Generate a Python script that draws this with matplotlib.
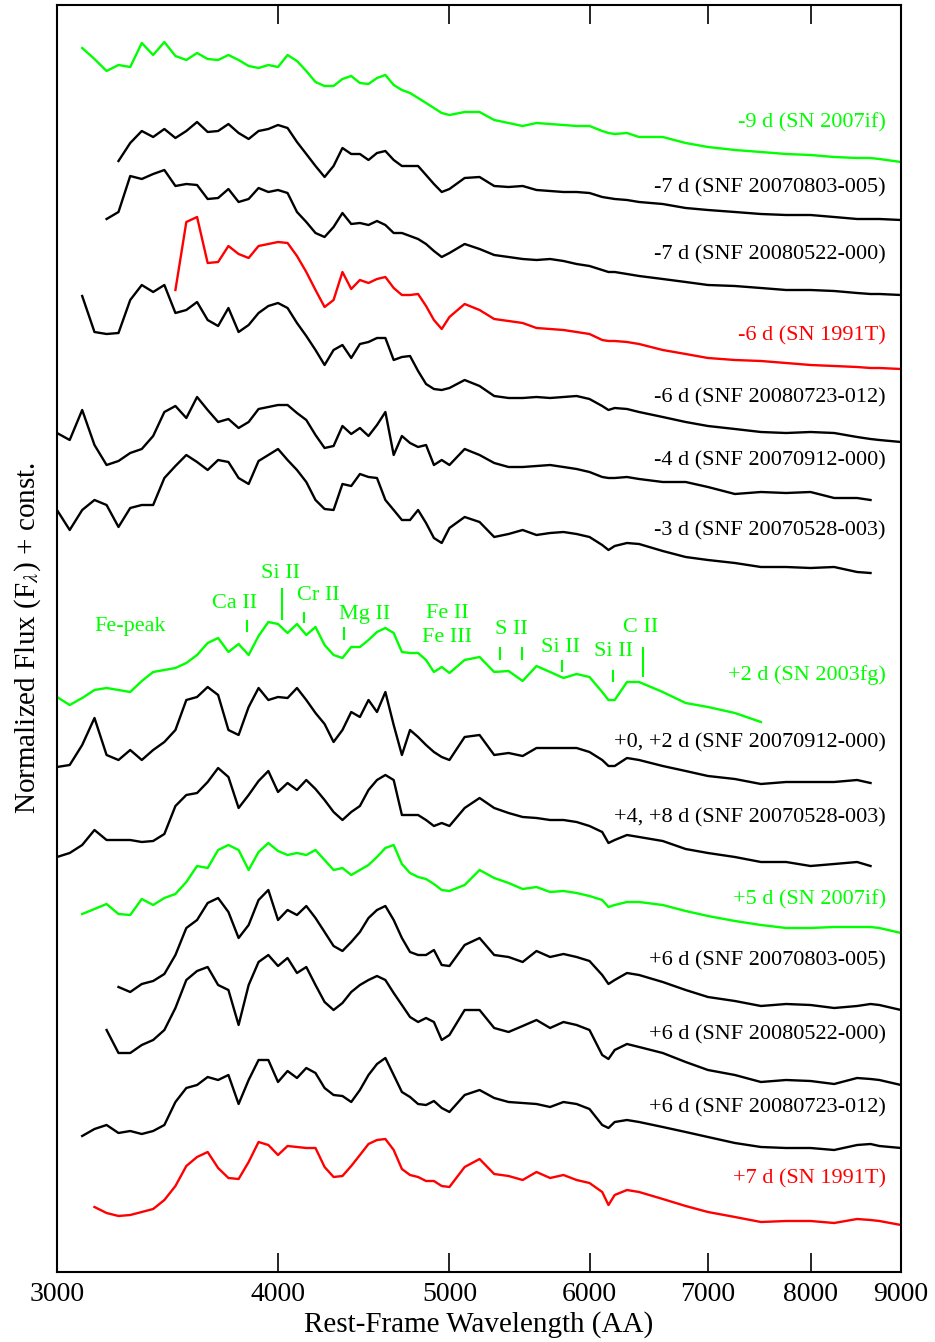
import numpy as np
import matplotlib
matplotlib.use("Agg")
import matplotlib.pyplot as plt

plt.rcParams["font.family"] = ["Liberation Serif", "DejaVu Serif"]
plt.rcParams["mathtext.fontset"] = "stix"

nan = np.nan

# rest-frame wavelength grid (AA) shared by all spectra
wave = [3000, 3050, 3100, 3150, 3200, 3250, 3300, 3350, 3400, 3450, 3500,
        3550, 3600, 3650, 3700, 3750, 3800, 3850, 3900, 3950, 4000,
        4050, 4100, 4150, 4200, 4250, 4300, 4350, 4400, 4450, 4500,
        4550, 4600, 4650, 4700, 4750, 4800, 4850, 4900, 4950, 5000,
        5100, 5200, 5300, 5400, 5500, 5600, 5700, 5800, 5900, 6000,
        6100, 6150, 6200, 6300, 6400, 6600, 6800, 7000, 7250, 7500,
        7750, 8000, 8250, 8500, 8650, 8750, 9000]

# normalized flux + const, top to bottom
sn07if_m9 = [nan, nan, 12.24, 12.13, 12.01, 12.07, 12.05, 12.29, 12.17, 12.30, 12.16,
             12.12, 12.19, 12.13, 12.12, 12.17, 12.12, 12.06, 12.04, 12.07, 12.05,
             12.17, 12.11, 12.01, 11.90, 11.86, 11.86, 11.93, 11.96, 11.89, 11.88,
             11.94, 11.97, 11.87, 11.82, 11.79, 11.74, 11.69, 11.64, 11.59, 11.57,
             11.60, 11.60, 11.52, 11.49, 11.46, 11.49, 11.48, 11.47, 11.46, 11.46,
             11.41, 11.39, 11.38, 11.39, 11.35, 11.35, 11.29, 11.25, 11.22, 11.20,
             11.18, 11.17, 11.15, 11.14, 11.14, 11.13, 11.10]
snf0803_m7 = [nan, nan, nan, nan, nan, 11.11, 11.29, 11.41, 11.35, 11.43, 11.34,
              11.41, 11.50, 11.40, 11.41, 11.48, 11.39, 11.33, 11.41, 11.43, 11.47,
              11.44, 11.30, 11.18, 11.06, 10.95, 11.06, 11.24, 11.18, 11.18, 11.12,
              11.19, 11.21, 11.12, 11.06, 11.06, 11.06, 10.97, 10.88, 10.80, 10.83,
              10.94, 10.95, 10.86, 10.85, 10.86, 10.82, 10.81, 10.80, 10.80, 10.79,
              10.75, 10.74, 10.73, 10.72, 10.70, 10.68, 10.64, 10.62, 10.60, 10.58,
              10.57, 10.57, 10.55, 10.53, 10.53, 10.53, 10.52]
snf0522_m7 = [nan, nan, nan, nan, 10.53, 10.60, 10.96, 10.93, 10.98, 11.02, 10.86,
              10.88, 10.87, 10.73, 10.74, 10.83, 10.70, 10.73, 10.84, 10.80, 10.82,
              10.79, 10.60, 10.50, 10.39, 10.35, 10.45, 10.59, 10.48, 10.49, 10.47,
              10.51, 10.47, 10.39, 10.39, 10.36, 10.33, 10.28, 10.21, 10.15, 10.19,
              10.28, 10.23, 10.17, 10.15, 10.13, 10.12, 10.13, 10.11, 10.08, 10.06,
              10.02, 10.00, 10.00, 9.98, 9.96, 9.93, 9.90, 9.87, 9.86, 9.84,
              9.82, 9.82, 9.81, 9.79, 9.78, 9.78, 9.77]
sn91T_m6 = [nan, nan, nan, nan, nan, nan, nan, nan, nan, nan, 9.82,
            10.50, 10.55, 10.09, 10.10, 10.26, 10.18, 10.14, 10.26, 10.28, 10.30,
            10.29, 10.16, 10.00, 9.82, 9.65, 9.72, 10.00, 9.83, 9.92, 9.89,
            9.93, 9.95, 9.84, 9.77, 9.77, 9.78, 9.66, 9.52, 9.43, 9.55,
            9.68, 9.62, 9.53, 9.51, 9.49, 9.44, 9.43, 9.42, 9.40, 9.38,
            9.32, 9.31, 9.31, 9.30, 9.28, 9.22, 9.18, 9.14, 9.12, 9.11,
            9.09, 9.07, 9.06, 9.05, 9.04, 9.04, 9.03]
snf0723_m6 = [nan, nan, 9.76, 9.40, 9.38, 9.39, 9.72, 9.87, 9.80, 9.87, 9.59,
              9.62, 9.70, 9.52, 9.46, 9.64, 9.40, 9.47, 9.59, 9.66, 9.69,
              9.64, 9.49, 9.36, 9.22, 9.07, 9.22, 9.27, 9.14, 9.28, 9.30,
              9.34, 9.34, 9.12, 9.15, 9.16, 9.01, 8.88, 8.83, 8.82, 8.84,
              8.92, 8.86, 8.76, 8.74, 8.74, 8.75, 8.74, 8.75, 8.76, 8.73,
              8.66, 8.62, 8.64, 8.63, 8.60, 8.55, 8.50, 8.46, 8.43, 8.40,
              8.39, 8.40, 8.39, 8.35, 8.33, 8.32, 8.30]
snf0912_m4 = [8.39, 8.32, 8.62, 8.27, 8.07, 8.11, 8.19, 8.23, 8.36, 8.60, 8.66,
              8.54, 8.75, 8.62, 8.50, 8.53, 8.44, 8.50, 8.63, 8.65, 8.67,
              8.67, 8.59, 8.52, 8.37, 8.24, 8.26, 8.46, 8.38, 8.44, 8.36,
              8.47, 8.60, 8.17, 8.36, 8.29, 8.25, 8.27, 8.07, 8.12, 8.07,
              8.23, 8.17, 8.09, 8.05, 8.05, 8.06, 8.07, 8.05, 8.03, 8.00,
              7.95, 7.94, 7.94, 7.95, 7.93, 7.90, 7.90, 7.85, 7.78, 7.80,
              7.79, 7.80, 7.74, 7.74, 7.72, nan, nan]
snf0528_m3 = [7.62, 7.42, 7.62, 7.72, 7.67, 7.45, 7.64, 7.67, 7.67, 7.94, 8.06,
              8.17, 8.10, 8.02, 8.12, 8.10, 7.94, 7.88, 8.11, 8.17, 8.23,
              8.12, 8.02, 7.90, 7.72, 7.63, 7.62, 7.88, 7.86, 7.98, 7.95,
              7.94, 7.72, 7.62, 7.52, 7.52, 7.62, 7.49, 7.34, 7.29, 7.44,
              7.55, 7.50, 7.35, 7.38, 7.42, 7.37, 7.39, 7.40, 7.38, 7.35,
              7.27, 7.22, 7.26, 7.29, 7.28, 7.21, 7.15, 7.12, 7.09, 7.05,
              7.05, 7.04, 7.05, 7.00, 6.99, nan, nan]
sn03fg_p2 = [5.75, 5.67, 5.74, 5.82, 5.84, 5.82, 5.80, 5.91, 6.00, 6.02, 6.04,
             6.09, 6.17, 6.29, 6.34, 6.20, 6.28, 6.17, 6.36, 6.50, 6.48,
             6.39, 6.48, 6.37, 6.45, 6.27, 6.17, 6.14, 6.25, 6.25, 6.32,
             6.40, 6.44, 6.39, 6.20, 6.19, 6.19, 6.12, 6.00, 6.05, 5.99,
             6.12, 6.15, 6.00, 6.01, 5.91, 6.06, 6.00, 5.94, 5.98, 5.95,
             5.80, 5.72, 5.72, 5.90, 5.90, 5.80, 5.69, 5.65, 5.59, 5.50,
             nan, nan, nan, nan, nan, nan, nan]
snf0912_p0 = [5.05, 5.07, 5.27, 5.54, 5.17, 5.12, 5.22, 5.12, 5.22, 5.30, 5.42,
              5.72, 5.75, 5.85, 5.77, 5.42, 5.37, 5.65, 5.84, 5.72, 5.75,
              5.74, 5.84, 5.72, 5.59, 5.48, 5.30, 5.42, 5.60, 5.55, 5.72,
              5.60, 5.80, 5.47, 5.17, 5.42, 5.35, 5.27, 5.20, 5.15, 5.12,
              5.35, 5.37, 5.17, 5.19, 5.16, 5.24, 5.24, 5.24, 5.24, 5.20,
              5.12, 5.06, 5.06, 5.14, 5.12, 5.06, 5.01, 4.96, 4.93, 4.88,
              4.90, 4.90, 4.90, 4.92, 4.89, nan, nan]
snf0528_p4 = [4.15, 4.19, 4.27, 4.42, 4.32, 4.32, 4.32, 4.30, 4.31, 4.38, 4.66,
              4.77, 4.79, 4.90, 5.04, 4.95, 4.64, 4.77, 4.91, 5.01, 4.80,
              4.89, 4.82, 4.92, 4.83, 4.72, 4.60, 4.52, 4.60, 4.66, 4.82,
              4.92, 4.97, 4.92, 4.57, 4.57, 4.57, 4.52, 4.46, 4.49, 4.46,
              4.64, 4.74, 4.64, 4.59, 4.55, 4.54, 4.52, 4.52, 4.50, 4.46,
              4.40, 4.29, 4.32, 4.37, 4.35, 4.31, 4.23, 4.19, 4.15, 4.10,
              4.10, 4.06, 4.08, 4.10, 4.06, nan, nan]
sn07if_p5 = [nan, nan, 3.58, 3.63, 3.68, 3.58, 3.57, 3.73, 3.67, 3.74, 3.78,
             3.90, 4.06, 4.04, 4.22, 4.27, 4.22, 4.02, 4.20, 4.29, 4.21,
             4.17, 4.19, 4.17, 4.22, 4.12, 4.02, 4.04, 3.97, 4.02, 4.07,
             4.15, 4.24, 4.27, 4.08, 3.99, 3.95, 3.93, 3.88, 3.82, 3.81,
             3.87, 4.02, 3.94, 3.89, 3.83, 3.85, 3.80, 3.81, 3.79, 3.76,
             3.72, 3.65, 3.67, 3.70, 3.70, 3.67, 3.61, 3.56, 3.51, 3.47,
             3.44, 3.44, 3.45, 3.45, 3.45, 3.44, 3.39]
snf0803_p6 = [nan, nan, nan, nan, nan, 2.85, 2.80, 2.88, 2.91, 2.98, 3.17,
              3.44, 3.52, 3.69, 3.74, 3.60, 3.34, 3.47, 3.72, 3.82, 3.52,
              3.62, 3.57, 3.66, 3.54, 3.40, 3.26, 3.21, 3.30, 3.40, 3.54,
              3.62, 3.66, 3.52, 3.34, 3.20, 3.17, 3.17, 3.22, 3.07, 3.06,
              3.27, 3.34, 3.17, 3.15, 3.10, 3.21, 3.15, 3.18, 3.15, 3.11,
              2.97, 2.88, 2.92, 2.99, 2.97, 2.90, 2.82, 2.75, 2.71, 2.66,
              2.68, 2.67, 2.64, 2.66, 2.68, 2.67, 2.62]
snf0522_p6 = [nan, nan, nan, nan, 2.42, 2.19, 2.19, 2.27, 2.32, 2.42, 2.64,
              2.92, 3.01, 3.05, 2.87, 2.82, 2.47, 2.87, 3.10, 3.17, 3.06,
              3.14, 2.99, 3.05, 2.87, 2.70, 2.62, 2.69, 2.80, 2.87, 2.92,
              2.96, 2.92, 2.79, 2.67, 2.55, 2.50, 2.54, 2.50, 2.32, 2.37,
              2.62, 2.62, 2.44, 2.40, 2.46, 2.52, 2.44, 2.50, 2.47, 2.42,
              2.17, 2.13, 2.22, 2.28, 2.25, 2.19, 2.10, 2.02, 1.97, 1.90,
              1.92, 1.91, 1.88, 1.94, 1.93, 1.92, 1.87]
snf0723_p6 = [nan, nan, 1.36, 1.43, 1.47, 1.39, 1.41, 1.38, 1.41, 1.47, 1.70,
              1.84, 1.87, 1.95, 1.92, 1.97, 1.68, 1.92, 2.12, 2.12, 1.90,
              2.01, 1.94, 2.04, 1.99, 1.84, 1.77, 1.76, 1.70, 1.82, 1.97,
              2.08, 2.14, 1.97, 1.80, 1.75, 1.68, 1.67, 1.71, 1.64, 1.60,
              1.77, 1.82, 1.74, 1.70, 1.69, 1.68, 1.65, 1.70, 1.68, 1.63,
              1.47, 1.44, 1.50, 1.52, 1.50, 1.45, 1.40, 1.35, 1.29, 1.25,
              1.24, 1.24, 1.22, 1.27, 1.28, 1.26, 1.24]
sn91T_p7 = [nan, nan, nan, 0.65, 0.59, 0.56, 0.57, 0.60, 0.63, 0.72, 0.86,
            1.06, 1.15, 1.20, 1.04, 0.94, 0.93, 1.10, 1.30, 1.27, 1.17,
            1.26, 1.25, 1.24, 1.24, 1.05, 0.95, 0.96, 1.06, 1.17, 1.28,
            1.32, 1.33, 1.22, 1.03, 0.97, 0.95, 0.91, 0.91, 0.86, 0.85,
            1.05, 1.13, 0.98, 0.96, 0.92, 1.00, 0.94, 0.97, 0.92, 0.89,
            0.80, 0.67, 0.77, 0.82, 0.80, 0.73, 0.66, 0.60, 0.55, 0.50,
            0.51, 0.51, 0.49, 0.53, 0.52, 0.51, 0.47]

spectra = [sn07if_m9, snf0803_m7, snf0522_m7, sn91T_m6, snf0723_m6,
           snf0912_m4, snf0528_m3, sn03fg_p2, snf0912_p0, snf0528_p4,
           sn07if_p5, snf0803_p6, snf0522_p6, snf0723_p6, sn91T_p7]
labels = ["-9 d (SN 2007if)", "-7 d (SNF 20070803-005)", "-7 d (SNF 20080522-000)",
          "-6 d (SN 1991T)", "-6 d (SNF 20080723-012)", "-4 d (SNF 20070912-000)",
          "-3 d (SNF 20070528-003)", "+2 d (SN 2003fg)", "+0, +2 d (SNF 20070912-000)",
          "+4, +8 d (SNF 20070528-003)", "+5 d (SN 2007if)", "+6 d (SNF 20070803-005)",
          "+6 d (SNF 20080522-000)", "+6 d (SNF 20080723-012)", "+7 d (SN 1991T)"]
label_y = [11.49, 10.84, 10.17, 9.36, 8.74, 8.11, 7.41, 5.97, 5.29, 4.54,
           3.72, 3.11, 2.37, 1.64, 0.93]
colors = ["#00ff00", "k", "k", "#ff0000", "k", "k", "k", "#00ff00", "k", "k",
          "#00ff00", "k", "k", "k", "#ff0000"]

# line identifications for SN 2003fg
line_names = ["Fe-peak", "Ca II", "Si II", "Cr II", "Mg II", "Fe II", "Fe III",
              "S II", "Si II", "Si II", "C II"]
line_text_x = [3300, 3780, 4015, 4214, 4480, 4984, 4984, 5417, 5774, 6194, 6416]
line_text_y = [6.45, 6.69, 6.99, 6.77, 6.57, 6.59, 6.35, 6.42, 6.25, 6.20, 6.44]
mark_wave = [3842, 4021, 4140, 4360, 5340, 5495, 5790, 6190, 6430]
mark_top = [6.52, 6.84, 6.60, 6.45, 6.25, 6.25, 6.12, 6.02, 6.25]
mark_bot = [6.40, 6.52, 6.49, 6.32, 6.12, 6.12, 6.00, 5.90, 5.95]

fig = plt.figure(figsize=(9.35, 13.42), dpi=100)
ax = fig.add_axes([57 / 935, 70 / 1342, 844 / 935, 1267 / 1342])

for flux, col, lab, ly in zip(spectra, colors, labels, label_y):
    ax.plot(wave, flux, color=col, lw=1.7)
    ax.text(0.982, ly, lab, color=col, fontsize=16, ha="right", va="center",
            transform=ax.get_yaxis_transform())

for name, tx, ty in zip(line_names, line_text_x, line_text_y):
    ax.text(tx, ty, name, color="#00ff00", fontsize=16, ha="center", va="center")
ax.vlines(mark_wave, mark_bot, mark_top, color="#00ff00", lw=1.5)

ax.set_xscale("log")
ax.set_xlim(3000, 9000)
ax.set_ylim(0, 12.67)
ticks = [3000, 4000, 5000, 6000, 7000, 8000, 9000]
ax.set_xticks(ticks)
ax.set_xticklabels([str(t) for t in ticks])
ax.xaxis.set_minor_locator(matplotlib.ticker.NullLocator())
ax.tick_params(axis="x", which="major", direction="in", length=14, width=1.2,
               top=True, labelsize=20, pad=7)
ax.set_yticks([])
for s in ax.spines.values():
    s.set_linewidth(1.5)

ax.set_xlabel("Rest-Frame Wavelength (AA)", fontsize=21, labelpad=3)
ax.set_ylabel(r"Normalized Flux (F$_\lambda$) + const.", fontsize=21, labelpad=10)

fig.savefig("out.png", dpi=100)
